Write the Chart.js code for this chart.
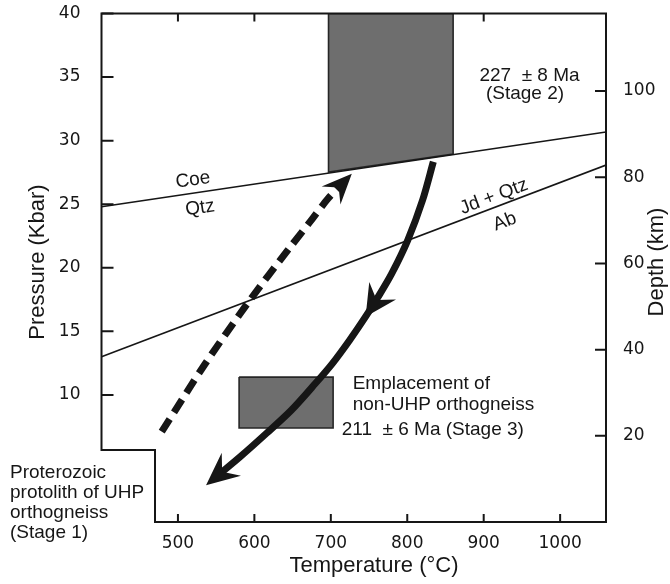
<!DOCTYPE html>
<html lang="en">
<head>
    <meta charset="UTF-8">
    <title>P-T path of UHP orthogneiss</title>
    <script src="https://cdn.jsdelivr.net/npm/chart.js"></script>
    <style>
        html, body { margin: 0; padding: 0; background: #fff; }
        #wrap { width: 670px; height: 584px; }
    </style>
</head>
<body>
<div id="wrap"><canvas id="ptChart" width="670" height="584"></canvas></div>

<script>
    // axes
    const tempRange = [400, 1060];       // °C
    const pressRange = [0, 40];          // kbar
    const kmPerKbar = 2.95;
    const tempTicks = [500, 600, 700, 800, 900, 1000];
    const topTicks = [500, 600, 700, 800, 900];
    const pressTicks = [10, 15, 20, 25, 30, 35, 40];
    const depthTicks = [20, 40, 60, 80, 100];

    // reaction lines
    const coeQtzT = [400, 1060];
    const coeQtzP = [24.8, 30.68];
    const jdQtzAbT = [400, 1060];
    const jdQtzAbP = [13.0, 28.08];

    // stage 2 box, its base sits on Coe = Qtz
    const stage2T = [697, 860, 860, 697, 697];
    const stage2P = [40, 40, 28.95, 27.53, 40];
    // stage 3 box
    const stage3T = [580, 703, 703, 580, 580];
    const stage3P = [11.4, 11.4, 7.4, 7.4, 11.4];

    // prograde path (dashed)
    const progT = [478.8, 534.6, 592.6, 645.7, 676.3, 696.7, 716.6];
    const progP = [7.1, 12.35, 17.33, 21.53, 23.89, 25.46, 26.71];
    // retrograde path (solid)
    const retroT = [834.1, 820.1, 800.7, 779.8, 762.0, 745.5, 724.8, 702.2, 680.0, 648.6, 615.9, 581.6, 549.8];
    const retroP = [28.34, 25.33, 22.18, 19.56, 17.72, 16.15, 14.32, 12.48, 10.91, 8.81, 6.98, 5.14, 3.54];
    const retroMidHead = 5;

    // cut-out corner of the frame
    const stepT = 470;
    const stepP = 5.66;

    const ink = '#161616';
    const noteFont = '19px "Liberation Sans", Arial, sans-serif';
    const titleFont = '22px "Liberation Sans", Arial, sans-serif';

    // text notes, placed in data units
    const notes = [
        {text: 'Coe', T: 519.7, P: 26.9, along: 'coe'},
        {text: 'Qtz', T: 528.9, P: 24.7, along: 'coe'},
        {text: 'Jd + Qtz', T: 913.3, P: 25.59, along: 'jd'},
        {text: 'Ab', T: 927.7, P: 23.62, along: 'jd'},
        {text: '227  \u00b1 8 Ma', T: 959.9, P: 34.69, align: 'center'},
        {text: '(Stage 2)', T: 954.0, P: 33.27, align: 'center'},
        {text: 'Emplacement of', T: 728.6, P: 10.46, align: 'left'},
        {text: 'non-UHP orthogneiss', T: 728.6, P: 8.81, align: 'left'},
        {text: '211  \u00b1 6 Ma (Stage 3)', T: 714.2, P: 6.84, align: 'left'},
        {text: 'Proterozoic', T: 280.3, P: 3.44, align: 'left'},
        {text: 'protolith of UHP', T: 280.3, P: 1.86, align: 'left'},
        {text: 'orthogneiss', T: 280.3, P: 0.29, align: 'left'},
        {text: '(Stage 1)', T: 280.3, P: -1.28, align: 'left'}
    ];

    const pts = (T, P) => T.map((t, i) => ({x: t, y: P[i]}));

    function pixel(chart, t, p) {
        return [chart.scales.x.getPixelForValue(t), chart.scales.y.getPixelForValue(p)];
    }

    // barbed arrow head: tip, back length, half width, notch depth
    function arrowHead(ctx, tip, dir, len, half, notch) {
        const [dx, dy] = dir, nx = -dy, ny = dx;
        const bx = tip[0] - dx * len, by = tip[1] - dy * len;
        ctx.beginPath();
        ctx.moveTo(tip[0], tip[1]);
        ctx.lineTo(bx + nx * half, by + ny * half);
        ctx.lineTo(tip[0] - dx * notch, tip[1] - dy * notch);
        ctx.lineTo(bx - nx * half, by - ny * half);
        ctx.closePath();
        ctx.fill();
    }

    function unit(a, b) {
        const dx = b[0] - a[0], dy = b[1] - a[1], l = Math.hypot(dx, dy);
        return [dx / l, dy / l];
    }

    function lineAngle(chart, T, P) {
        const a = pixel(chart, T[0], P[0]), b = pixel(chart, T[1], P[1]);
        return Math.atan2(b[1] - a[1], b[0] - a[0]);
    }

    const decorPlugin = {
        id: 'decor',
        beforeDatasetsDraw(chart) {
            // inward tick marks
            const ctx = chart.ctx, {left, right, top, bottom} = chart.chartArea;
            const sx = chart.scales.x, sy = chart.scales.y, sd = chart.scales.depth;
            ctx.save();
            ctx.strokeStyle = ink;
            ctx.lineWidth = 2;
            ctx.beginPath();
            tempTicks.forEach(v => {
                const X = sx.getPixelForValue(v);
                ctx.moveTo(X, bottom); ctx.lineTo(X, bottom - 8);
            });
            topTicks.forEach(v => {
                const X = sx.getPixelForValue(v);
                ctx.moveTo(X, top); ctx.lineTo(X, top + 8);
            });
            pressTicks.forEach(v => {
                const Y = sy.getPixelForValue(v);
                ctx.moveTo(left, Y); ctx.lineTo(left + 12, Y);
            });
            depthTicks.forEach(v => {
                const Y = sd.getPixelForValue(v);
                ctx.moveTo(right, Y); ctx.lineTo(right - 11, Y);
            });
            ctx.stroke();
            ctx.restore();
        },
        afterDatasetsDraw(chart) {
            const ctx = chart.ctx, {left, right, top, bottom} = chart.chartArea;
            ctx.save();

            // frame with the stepped lower-left corner
            const [cx, cy] = pixel(chart, stepT, stepP);
            ctx.strokeStyle = ink;
            ctx.lineWidth = 2;
            ctx.lineJoin = 'miter';
            ctx.beginPath();
            ctx.moveTo(left, top);
            ctx.lineTo(right, top);
            ctx.lineTo(right, bottom);
            ctx.lineTo(cx, bottom);
            ctx.lineTo(cx, cy);
            ctx.lineTo(left, cy);
            ctx.closePath();
            ctx.stroke();

            // arrow heads
            ctx.fillStyle = ink;
            const prog = pts(progT, progP).map(p => pixel(chart, p.x, p.y));
            const n = prog.length;
            let d = unit(prog[n - 2], prog[n - 1]);
            arrowHead(ctx, [prog[n - 1][0] + d[0] * 12, prog[n - 1][1] + d[1] * 12], d, 30, 13, 19);

            const retro = pts(retroT, retroP).map(p => pixel(chart, p.x, p.y));
            const m = retro.length;
            d = unit(retro[m - 2], retro[m - 1]);
            arrowHead(ctx, [retro[m - 1][0] + d[0] * 13, retro[m - 1][1] + d[1] * 13], d, 33, 15, 21);
            const k = retroMidHead;
            d = unit(retro[k - 1], retro[k + 1]);
            arrowHead(ctx, retro[k], d, 31, 16, 20);

            // notes
            ctx.fillStyle = ink;
            ctx.font = noteFont;
            notes.forEach(nt => {
                const [x, y] = pixel(chart, nt.T, nt.P);
                ctx.save();
                ctx.translate(x, y);
                if (nt.along) {
                    const ang = nt.along === 'coe' ? lineAngle(chart, coeQtzT, coeQtzP) : lineAngle(chart, jdQtzAbT, jdQtzAbP);
                    ctx.rotate(ang);
                    ctx.textAlign = 'center';
                    ctx.textBaseline = 'middle';
                } else {
                    ctx.textAlign = nt.align;
                    ctx.textBaseline = 'alphabetic';
                }
                ctx.fillText(nt.text, 0, 0);
                ctx.restore();
            });

            // axis titles
            ctx.font = titleFont;
            ctx.textBaseline = 'middle';
            ctx.textAlign = 'center';
            ctx.fillText('Temperature (\u00b0C)', 374, 566);
            ctx.save();
            ctx.translate(38, 262);
            ctx.rotate(-Math.PI / 2);
            ctx.fillText('Pressure (Kbar)', 0, 0);
            ctx.restore();
            ctx.save();
            ctx.translate(657, 262);
            ctx.rotate(-Math.PI / 2);
            ctx.fillText('Depth (km)', 0, 0);
            ctx.restore();

            ctx.restore();
        }
    };

    const tickFont = {family: 'DejaVu Sans', size: 17};
    const fixTicks = list => scale => { scale.ticks = list.map(v => ({value: v})); };
    const plain = v => String(v);

    const config = {
        type: 'line',
        data: {
            datasets: [
                {data: pts(progT, progP), borderColor: ink, borderWidth: 7, borderDash: [15, 8],
                    borderCapStyle: 'butt', tension: 0.3, pointRadius: 0, fill: false, order: 0},
                {data: pts(retroT, retroP), borderColor: ink, borderWidth: 7,
                    tension: 0.3, pointRadius: 0, fill: false, order: 0},
                {data: pts(coeQtzT, coeQtzP), borderColor: ink, borderWidth: 1.6, pointRadius: 0, fill: false, order: 1},
                {data: pts(jdQtzAbT, jdQtzAbP), borderColor: ink, borderWidth: 1.6, pointRadius: 0, fill: false, order: 1},
                {data: pts(stage2T, stage2P), borderColor: '#262626', borderWidth: 1.6, backgroundColor: '#6e6e6e',
                    fill: 'shape', tension: 0, pointRadius: 0, order: 2},
                {data: pts(stage3T, stage3P), borderColor: '#262626', borderWidth: 1.6, backgroundColor: '#6e6e6e',
                    fill: 'shape', tension: 0, pointRadius: 0, order: 2}
            ]
        },
        options: {
            responsive: false,
            animation: false,
            layout: {padding: {top: 13.5}},
            plugins: {legend: {display: false}, tooltip: {enabled: false}},
            scales: {
                x: {
                    type: 'linear', position: 'bottom',
                    min: tempRange[0], max: tempRange[1],
                    afterBuildTicks: fixTicks(tempTicks),
                    afterFit: s => { s.height = 62; s.paddingLeft = 0; s.paddingRight = 0; },
                    grid: {display: false}, border: {display: false},
                    ticks: {font: tickFont, color: ink, padding: 3, maxRotation: 0, callback: plain}
                },
                y: {
                    type: 'linear', position: 'left',
                    min: pressRange[0], max: pressRange[1],
                    afterBuildTicks: fixTicks(pressTicks),
                    afterFit: s => { s.width = 101.5; s.paddingTop = 0; s.paddingBottom = 0; },
                    grid: {display: false}, border: {display: false},
                    ticks: {font: tickFont, color: ink, padding: 13, callback: plain}
                },
                depth: {
                    type: 'linear', position: 'right',
                    min: pressRange[0] * kmPerKbar, max: pressRange[1] * kmPerKbar,
                    afterBuildTicks: fixTicks(depthTicks),
                    afterFit: s => { s.width = 64; s.paddingTop = 0; s.paddingBottom = 0; },
                    grid: {display: false}, border: {display: false},
                    ticks: {font: tickFont, color: ink, padding: 9, callback: plain}
                }
            }
        },
        plugins: [decorPlugin]
    };

    new Chart(document.getElementById('ptChart'), config);
</script>
</body>
</html>
